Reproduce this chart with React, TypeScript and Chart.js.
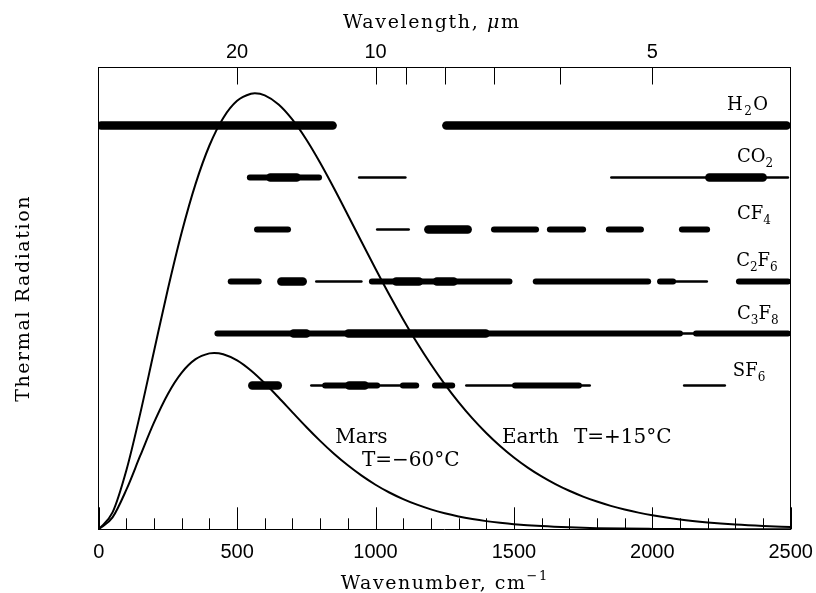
import React, { useEffect, useRef } from "react";
import { Chart, registerables } from "chart.js";

Chart.register(...registerables);

// ---------------- data ----------------
const EARTH_WAVENUMBER = [
  0, 50, 100, 150, 200, 250, 300, 350, 400, 450, 500, 550, 564, 600, 650, 700, 750, 800, 850, 900,
  950, 1000, 1050, 1100, 1150, 1200, 1250, 1300, 1350, 1400, 1450, 1500, 1550, 1600, 1650, 1700,
  1750, 1800, 1850, 1900, 1950, 2000, 2100, 2200, 2300, 2400, 2500,
];
const EARTH_RADIANCE = [
  0, 3.65, 12.78, 25.05, 38.61, 52.03, 64.32, 74.8, 83.11, 89.08, 92.78, 94.31, 94.4, 93.97, 91.99,
  88.7, 84.41, 79.37, 73.85, 68.07, 62.2, 56.41, 50.78, 45.44, 40.39, 35.73, 31.44, 27.54, 24.02,
  20.86, 18.05, 15.56, 13.37, 11.46, 9.79, 8.34, 7.09, 6.01, 5.08, 4.29, 3.61, 3.03, 2.13, 1.49,
  1.03, 0.71, 0.49,
];
const MARS_WAVENUMBER = [
  0, 50, 100, 150, 200, 250, 300, 350, 400, 417, 450, 500, 550, 600, 650, 700, 750, 800, 850, 900,
  950, 1000, 1050, 1100, 1150, 1200, 1250, 1300, 1350, 1400, 1450, 1500, 1600, 1700, 1800, 1900,
  2000, 2100, 2200, 2300, 2400, 2500,
];
const MARS_RADIANCE = [
  0, 2.58, 8.58, 15.93, 23.15, 29.32, 33.93, 36.84, 38.09, 38.18, 37.91, 36.57, 34.38, 31.61, 28.53,
  25.33, 22.16, 19.15, 16.36, 13.85, 11.61, 9.65, 7.97, 6.54, 5.33, 4.32, 3.48, 2.79, 2.23, 1.77,
  1.41, 1.11, 0.69, 0.42, 0.25, 0.15, 0.09, 0.05, 0.03, 0.02, 0.01, 0.005,
];

const GASES = ["H2O", "CO2", "CF4", "C2F6", "C3F8", "SF6"];
// absorption bands: [start cm-1, end cm-1, strength (1 weak, 2 moderate, 3 strong)]
const H2O_BANDS = [[9, 845, 3], [1256, 2485, 3]];
const CO2_BANDS = [[546, 796, 2], [620, 715, 3], [941, 1108, 1], [1852, 2490, 1], [2206, 2399, 3]];
const CF4_BANDS = [
  [572, 684, 2], [1006, 1120, 1], [1191, 1333, 3], [1428, 1580, 2], [1630, 1750, 2],
  [1843, 1959, 2], [2107, 2198, 2],
];
const C2F6_BANDS = [
  [477, 578, 2], [660, 737, 3], [786, 949, 1], [987, 1484, 2], [1075, 1157, 3], [1222, 1282, 3],
  [1579, 1985, 2], [2028, 2075, 2], [2080, 2197, 1], [2313, 2490, 2],
];
const C3F8_BANDS = [[429, 2100, 2], [704, 750, 3], [902, 1398, 3], [2100, 2158, 1], [2158, 2490, 2]];
const SF6_BANDS = [
  [555, 647, 3], [768, 1140, 1], [818, 1006, 2], [905, 961, 3], [1099, 1147, 2], [1215, 1277, 2],
  [1328, 1774, 1], [1504, 1735, 2], [2115, 2262, 1],
];
const GAS_BANDS = [H2O_BANDS, CO2_BANDS, CF4_BANDS, C2F6_BANDS, C3F8_BANDS, SF6_BANDS];

const WAVELENGTH_TICKS = [20, 10, 9, 8, 7, 6, 5]; // micrometres
const WAVELENGTH_LABELS = [20, 10, 5];
const WAVENUMBER_LABEL_STEP = 500;

const CURVE_LABELS = ["Mars", "T=\u221260\u00b0C", "Earth", "T=+15\u00b0C"];

// ---------------- layout / style ----------------
const SERIF = '"DejaVu Serif", serif';
const SANS = '"Liberation Sans", Arial, sans-serif';
const STRENGTH_WIDTH: Record<number, number> = { 1: 2.5, 2: 6, 3: 8.5 };
const GAS_LABEL_POS = [
  { x: 2270, dy: -0.298, sp: 1.5 },
  { x: 2306, dy: -0.304, sp: 0 },
  { x: 2306, dy: -0.196, sp: 0 },
  { x: 2303, dy: -0.298, sp: 0 },
  { x: 2306, dy: -0.279, sp: 0 },
  { x: 2291, dy: -0.183, sp: 0 },
];
const CURVE_LABEL_POS = [
  { x: 855, y: 18.63 },
  { x: 951, y: 13.71 },
  { x: 1457, y: 18.63 },
  { x: 1717, y: 18.63 },
];

type Part = { t: string; sub?: boolean; sup?: boolean; it?: boolean };

function formulaParts(f: string): Part[] {
  const parts: Part[] = [];
  for (const ch of f) {
    const sub = /[0-9]/.test(ch);
    const last = parts[parts.length - 1];
    if (last && !!last.sub === sub) last.t += ch;
    else parts.push({ t: ch, sub });
  }
  return parts;
}

function fontFor(p: Part, size: number) {
  const s = p.sub || p.sup ? Math.round(size * 0.68) : size;
  return `${p.it ? "italic " : ""}${s}px ${SERIF}`;
}

function drawParts(
  ctx: CanvasRenderingContext2D,
  parts: Part[],
  x: number,
  y: number,
  size: number,
  align: "left" | "center",
  spacing = 0
) {
  (ctx as any).letterSpacing = `${spacing}px`;
  let total = 0;
  for (const p of parts) {
    ctx.font = fontFor(p, size);
    total += ctx.measureText(p.t).width;
  }
  let cx = align === "center" ? x - total / 2 : x;
  ctx.textAlign = "left";
  ctx.textBaseline = "alphabetic";
  for (const p of parts) {
    ctx.font = fontFor(p, size);
    const dy = p.sub ? size * 0.27 : p.sup ? -size * 0.5 : 0;
    ctx.fillText(p.t, cx, y + dy);
    cx += ctx.measureText(p.t).width;
  }
  (ctx as any).letterSpacing = "0px";
}

const decorPlugin = {
  id: "decor",
  afterDraw(chart: any) {
    const { ctx, chartArea: a, scales } = chart;
    const sx = scales.x;
    const sx2 = scales.x2;
    const sy = scales.y;
    const sg = scales.yGas;
    ctx.save();
    ctx.strokeStyle = "#000";
    ctx.lineWidth = 1;
    ctx.beginPath();
    for (const t of sx.ticks) {
      const px = Math.round(sx.getPixelForValue(t.value)) + 0.5;
      const len = t.value % WAVENUMBER_LABEL_STEP === 0 ? 22 : 11;
      ctx.moveTo(px, a.bottom);
      ctx.lineTo(px, a.bottom - len);
    }
    for (const t of sx2.ticks) {
      const px = Math.round(sx2.getPixelForValue(t.value)) + 0.5;
      ctx.moveTo(px, a.top);
      ctx.lineTo(px, a.top + 17);
    }
    ctx.stroke();

    ctx.fillStyle = "#000";
    GASES.forEach((g, i) => {
      const px = sx.getPixelForValue(GAS_LABEL_POS[i].x);
      const py = sg.getPixelForValue(i + GAS_LABEL_POS[i].dy);
      drawParts(ctx, formulaParts(g), px, py, 18, "left", GAS_LABEL_POS[i].sp);
    });

    CURVE_LABELS.forEach((t, i) => {
      const px = sx.getPixelForValue(CURVE_LABEL_POS[i].x);
      const py = sy.getPixelForValue(CURVE_LABEL_POS[i].y);
      drawParts(ctx, [{ t }], px, py, 20, "left");
    });

    // axis titles
    const cx = (a.left + a.right) / 2;
    drawParts(
      ctx,
      [{ t: "Wavelength, " }, { t: "\u03bc", it: true }, { t: "m" }],
      cx - 13,
      a.top - 39.5,
      19,
      "center",
      1.6
    );
    drawParts(ctx, [{ t: "Wavenumber, cm" }, { t: "\u22121", sup: true }], cx, a.bottom + 60, 19, "center", 1.5);
    ctx.translate(29, (a.top + a.bottom) / 2);
    ctx.rotate(-Math.PI / 2);
    drawParts(ctx, [{ t: "Thermal Radiation" }], 0, 0, 19, "center", 1.6);
    ctx.restore();
  },
};

export default function App() {
  const ref = useRef<HTMLCanvasElement | null>(null);
  useEffect(() => {
    if (!ref.current) return;
    const curve = (xs: number[], ys: number[]) => ({
      type: "line" as const,
      data: xs.map((x, i) => ({ x, y: ys[i] })),
      borderColor: "#000",
      borderWidth: 2,
      pointRadius: 0,
      fill: false,
      cubicInterpolationMode: "monotone" as const,
      yAxisID: "y",
      xAxisID: "x",
    });
    const bandSets: any[] = [];
    GAS_BANDS.forEach((bands, row) => {
      bands.forEach(([s, e, k]) => {
        bandSets.push({
          type: "line",
          data: [
            { x: s, y: row },
            { x: e, y: row },
          ],
          borderColor: "#000",
          borderWidth: STRENGTH_WIDTH[k],
          borderCapStyle: "round",
          pointRadius: 0,
          fill: false,
          yAxisID: "yGas",
          xAxisID: "x",
        });
      });
    });
    const border = { display: true, color: "#000", width: 1 };
    const noPad = (s: any) => {
      s.paddingLeft = 0;
      s.paddingRight = 0;
      s.paddingTop = 0;
      s.paddingBottom = 0;
    };
    const chart = new Chart(ref.current, {
      type: "line",
      data: {
        datasets: [curve(EARTH_WAVENUMBER, EARTH_RADIANCE), curve(MARS_WAVENUMBER, MARS_RADIANCE), ...bandSets],
      },
      options: {
        responsive: false,
        animation: false,
        devicePixelRatio: 1,
        events: [],
        layout: { padding: { left: 98.7, right: 25.3, top: 0, bottom: 0 } },
        plugins: { legend: { display: false }, tooltip: { enabled: false } },
        scales: {
          x: {
            type: "linear",
            position: "bottom",
            min: 0,
            max: 2500,
            grid: { display: false, drawTicks: false },
            border,
            ticks: {
              stepSize: 100,
              autoSkip: false,
              maxRotation: 0,
              padding: 11,
              color: "#000",
              font: { family: SANS, size: 20 },
              callback: (v: any) => (Number(v) % WAVENUMBER_LABEL_STEP === 0 ? String(v) : ""),
            },
            afterFit: (s: any) => {
              s.height = 63.7;
              noPad(s);
            },
          },
          x2: {
            type: "linear",
            position: "top",
            min: 0,
            max: 2500,
            grid: { display: false, drawTicks: false },
            border,
            afterBuildTicks: (s: any) => {
              s.ticks = WAVELENGTH_TICKS.map((l) => ({ value: 10000 / l }));
            },
            ticks: {
              autoSkip: false,
              maxRotation: 0,
              padding: 3,
              color: "#000",
              font: { family: SANS, size: 20 },
              callback: (v: any) => {
                const l = Math.round(10000 / Number(v));
                return WAVELENGTH_LABELS.includes(l) ? String(l) : "";
              },
            },
            afterFit: (s: any) => {
              s.height = 67.5;
              noPad(s);
            },
          },
          y: {
            type: "linear",
            position: "left",
            min: 0,
            max: 100,
            grid: { display: false, drawTicks: false },
            ticks: { display: false },
            border,
            afterFit: (s: any) => {
              s.width = 0;
              noPad(s);
            },
          },
          yR: {
            type: "linear",
            position: "right",
            min: 0,
            max: 100,
            grid: { display: false, drawTicks: false },
            ticks: { display: false },
            border,
            afterFit: (s: any) => {
              s.width = 0;
              noPad(s);
            },
          },
          yGas: {
            type: "linear",
            display: false,
            reverse: true,
            min: -1.115,
            max: 7.765,
          },
        },
      } as any,
      plugins: [decorPlugin],
    });
    return () => chart.destroy();
  }, []);
  return (
    <div style={{ position: "absolute", left: 0, top: 0, width: 816, height: 593, background: "#fff" }}>
      <canvas ref={ref} width={816} height={593} style={{ display: "block" }} />
    </div>
  );
}
